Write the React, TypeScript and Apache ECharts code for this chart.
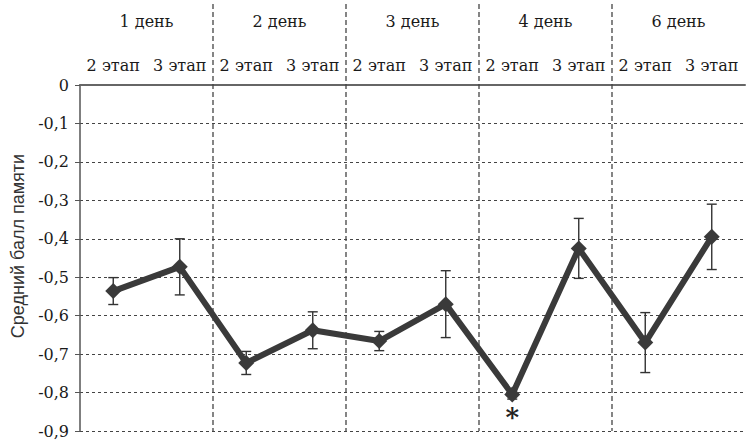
import React, { useEffect, useRef } from "react";
import * as echarts from "echarts";

const stages = ["2 этап", "3 этап", "2 этап", "3 этап", "2 этап", "3 этап", "2 этап", "3 этап", "2 этап", "3 этап"];
const days = ["1 день", "2 день", "3 день", "4 день", "6 день"];
const means = [-0.536, -0.473, -0.723, -0.638, -0.666, -0.57, -0.805, -0.425, -0.67, -0.395];
const errors = [0.035, 0.073, 0.03, 0.048, 0.025, 0.087, 0.012, 0.078, 0.078, 0.085];
const markedIndex = 6;
const yAxisTitle = "Средний балл памяти";

const SERIF = "'DejaVu Serif', 'Liberation Serif', serif";

export default function App() {
  const ref = useRef<HTMLDivElement>(null);
  useEffect(() => {
    if (!ref.current) return;
    const chart = echarts.init(ref.current, undefined, { renderer: "svg" });
    const errData = means.map((m, i) => [i, m - errors[i], m + errors[i]]);
    const lineData = means.map((m, i) =>
      i === markedIndex
        ? {
            value: m,
            label: {
              show: true,
              formatter: "*",
              position: "bottom",
              distance: 2,
              fontSize: 26,
              fontWeight: "bold",
              fontFamily: SERIF,
              color: "#222",
            },
          }
        : m
    );
    chart.setOption({
      animation: false,
      backgroundColor: "#ffffff",
      grid: { left: 80, right: 5, top: 85, bottom: 12 },
      xAxis: [
        {
          type: "category",
          data: stages,
          position: "top",
          axisLine: { onZero: false, lineStyle: { color: "#666", width: 2 } },
          axisTick: { inside: true, length: 5, interval: 0, lineStyle: { color: "#666" } },
          axisLabel: { interval: 0, margin: 12, fontSize: 16, fontFamily: SERIF, color: "#1a1a1a" },
          splitLine: { show: false },
        },
        {
          type: "category",
          data: days,
          position: "top",
          offset: 48,
          axisLine: { show: false },
          axisTick: { show: false },
          axisLabel: { interval: 0, margin: 8, fontSize: 16, fontFamily: SERIF, color: "#1a1a1a" },
          splitLine: { show: false },
        },
      ],
      yAxis: {
        type: "value",
        min: -0.9,
        max: 0,
        interval: 0.1,
        axisLine: { show: true, lineStyle: { color: "#555", width: 1.5 } },
        axisTick: { show: true, length: 5, lineStyle: { color: "#555" } },
        axisLabel: {
          margin: 11,
          fontSize: 16,
          fontFamily: SERIF,
          color: "#1a1a1a",
          formatter: (v: number) => (Math.abs(v) < 1e-9 ? "0" : v.toFixed(1).replace(".", ",")),
        },
        splitLine: { show: true, lineStyle: { color: "#444", type: [3, 3], width: 1 } },
      },
      series: [
        {
          type: "custom",
          xAxisIndex: 0,
          z: 2,
          data: errData,
          renderItem: (params: any, api: any) => {
            const x = api.value(0);
            const lo = api.coord([x, api.value(1)]);
            const hi = api.coord([x, api.value(2)]);
            const w = 5;
            const st = { stroke: "#333", lineWidth: 1.4 };
            return {
              type: "group",
              children: [
                { type: "line", shape: { x1: lo[0], y1: lo[1], x2: hi[0], y2: hi[1] }, style: st },
                { type: "line", shape: { x1: lo[0] - w, y1: lo[1], x2: lo[0] + w, y2: lo[1] }, style: st },
                { type: "line", shape: { x1: hi[0] - w, y1: hi[1], x2: hi[0] + w, y2: hi[1] }, style: st },
              ],
            };
          },
        },
        {
          type: "line",
          xAxisIndex: 0,
          z: 3,
          data: lineData,
          symbol: "diamond",
          symbolSize: 16,
          lineStyle: { color: "#3a3a3a", width: 6 },
          itemStyle: { color: "#3a3a3a" },
        },
      ],
    });
    const yBottom = chart.convertToPixel({ yAxisIndex: 0 }, -0.9) as number;
    const lines: any[] = [];
    for (let g = 1; g < days.length; g++) {
      const a = chart.convertToPixel({ xAxisIndex: 0 }, g * 2 - 1) as number;
      const b = chart.convertToPixel({ xAxisIndex: 0 }, g * 2) as number;
      const x = (a + b) / 2;
      lines.push({
        type: "line",
        shape: { x1: x, y1: 4, x2: x, y2: yBottom },
        style: { stroke: "#444", lineWidth: 1.3, lineDash: [5, 3] },
        z: 1,
      });
    }
    lines.push({
      type: "text",
      x: 18,
      y: 246,
      rotation: Math.PI / 2,
      style: {
        text: yAxisTitle,
        fontSize: 18,
        fontFamily: "'Liberation Sans', Arial, sans-serif",
        fill: "#333",
        align: "center",
        verticalAlign: "middle",
      },
    });
    chart.setOption({ graphic: lines });
    return () => chart.dispose();
  }, []);
  return <div ref={ref} style={{ position: "fixed", left: 0, top: 0, width: 750, height: 443 }} />;
}
